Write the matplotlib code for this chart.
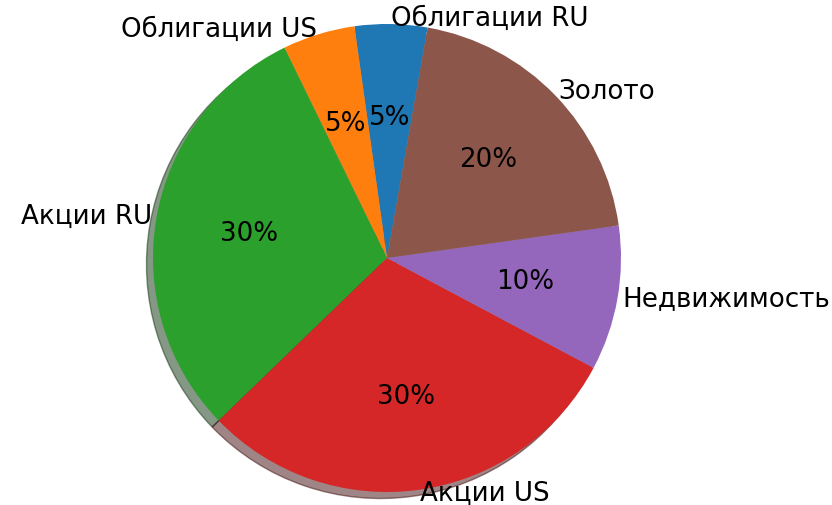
import matplotlib
matplotlib.use("Agg")
import matplotlib.pyplot as plt

labels = ["Облигации RU", "Облигации US", "Акции RU", "Акции US", "Недвижимость", "Золото"]
shares = [5, 5, 30, 30, 10, 20]

plt.rcParams["font.size"] = 18.8

fig = plt.figure(figsize=(8.32, 5.05), dpi=100)
ax = fig.add_axes([0, 0, 1, 1])

ax.pie(shares, labels=labels, autopct="%1.0f%%", shadow=True,
       startangle=80, labeldistance=1.02, pctdistance=0.6)

# place the pie the same way as in the picture (radius ~234 px)
r_px = 234.0
cx, cy = 387.0, 505 - 258.0
ax.set_aspect("auto")
ax.set_xlim(-cx / r_px, (832 - cx) / r_px)
ax.set_ylim(-cy / r_px, (505 - cy) / r_px)
ax.axis("off")

fig.savefig("out.png", dpi=100)
